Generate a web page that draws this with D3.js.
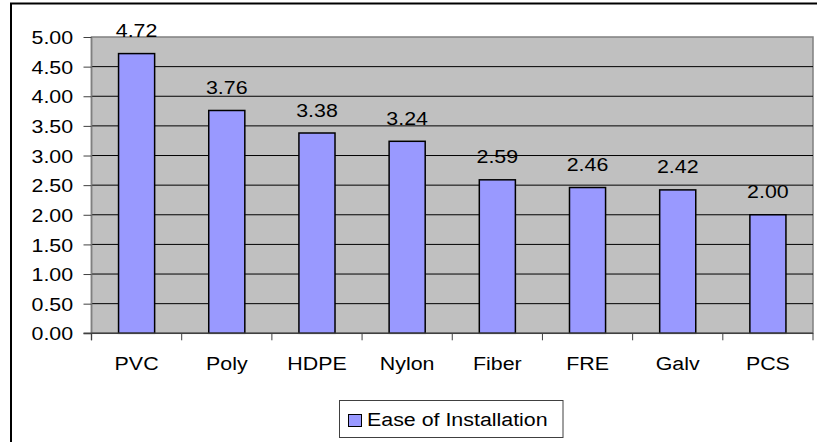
<!DOCTYPE html>
<html>
<head>
<meta charset="utf-8">
<script src="https://cdn.jsdelivr.net/npm/d3@7"></script>
<style>
  body { margin: 0; background: #fff; }
  text { font-family: "Liberation Sans", Arial, sans-serif; fill: #000; }
</style>
</head>
<body>
<div id="chart"></div>
<script>
var categories = ["PVC", "Poly", "HDPE", "Nylon", "Fiber", "FRE", "Galv", "PCS"];
var values = [4.72, 3.76, 3.38, 3.24, 2.59, 2.46, 2.42, 2.00];
var yTicks = [0, 0.5, 1, 1.5, 2, 2.5, 3, 3.5, 4, 4.5, 5];
var seriesName = "Ease of Installation";

var W = 817, H = 442;
var plot = { left: 91.5, top: 37, right: 813, bottom: 333.3 };
var stretch = 1.15; // text in the reference is a bit wider than tall
var fontSize = 18.6;

var svg = d3.select("#chart").append("svg")
  .attr("width", W)
  .attr("height", H);

// outer frame (runs off the right and bottom)
svg.append("rect")
  .attr("x", 11).attr("y", 3.5)
  .attr("width", 830).attr("height", 460)
  .attr("fill", "#fff")
  .attr("stroke", "#000")
  .attr("stroke-width", 2);

var x = d3.scaleBand()
  .domain(categories)
  .range([plot.left, plot.right])
  .paddingInner(0.6)
  .paddingOuter(0.3);

var xEdge = d3.scaleLinear()
  .domain([0, categories.length])
  .range([plot.left, plot.right]);

var y = d3.scaleLinear()
  .domain([0, 5])
  .range([plot.bottom, plot.top]);

// plot background
svg.append("rect")
  .attr("x", plot.left).attr("y", plot.top)
  .attr("width", plot.right - plot.left)
  .attr("height", plot.bottom - plot.top)
  .attr("fill", "#c0c0c0")
  .attr("stroke", "#808080")
  .attr("stroke-width", 1.5);

// gridlines
svg.append("g")
  .selectAll("line")
  .data(yTicks.filter(function (d) { return d > 0 && d < 5; }))
  .enter().append("line")
  .attr("x1", plot.left).attr("x2", plot.right)
  .attr("y1", function (d) { return y(d); })
  .attr("y2", function (d) { return y(d); })
  .attr("stroke", "#000")
  .attr("stroke-width", 1);

// bars
svg.append("g")
  .selectAll("rect")
  .data(values)
  .enter().append("rect")
  .attr("x", function (d, i) { return x(categories[i]); })
  .attr("y", function (d) { return y(d); })
  .attr("width", x.bandwidth())
  .attr("height", function (d) { return y(0) - y(d); })
  .attr("fill", "#9999ff")
  .attr("stroke", "#000")
  .attr("stroke-width", 1.5);

function stretchText(sel, tx, ty) {
  sel.attr("x", 0).attr("y", 0)
    .attr("transform", function (d, i) {
      return "translate(" + tx(d, i) + "," + ty(d, i) + ") scale(" + stretch + ",1)";
    });
}

// value labels
svg.append("g")
  .selectAll("text")
  .data(values)
  .enter().append("text")
  .attr("text-anchor", "middle")
  .style("font-size", fontSize + "px")
  .text(function (d) { return d.toFixed(2); })
  .call(stretchText,
    function (d, i) { return x(categories[i]) + x.bandwidth() / 2; },
    function (d) { return y(d) - 16.5; });

// y axis
var yAxis = svg.append("g")
  .attr("transform", "translate(" + plot.left + ",0)")
  .call(d3.axisLeft(y).tickValues(yTicks).tickSize(8).tickPadding(10)
    .tickFormat(function (d) { return d.toFixed(2); }));
yAxis.select(".domain").attr("stroke", "#808080").attr("stroke-width", 1.5)
  .attr("d", "M0," + plot.top + "V" + (plot.bottom + 7));
yAxis.selectAll(".tick line").attr("stroke", "#404040");
yAxis.selectAll(".tick text")
  .style("font-size", fontSize + "px")
  .attr("fill", "#000")
  .attr("dy", "0.36em")
  .attr("x", -16)
  .attr("transform", "scale(" + stretch + ",1)");

// x axis ticks at category edges
svg.append("g")
  .selectAll("line")
  .data(d3.range(categories.length + 1))
  .enter().append("line")
  .attr("x1", function (d) { return xEdge(d); })
  .attr("x2", function (d) { return xEdge(d); })
  .attr("y1", plot.bottom)
  .attr("y2", plot.bottom + 7)
  .attr("stroke", "#404040")
  .attr("stroke-width", 1);

svg.append("line")
  .attr("x1", plot.left - 8).attr("x2", plot.right)
  .attr("y1", plot.bottom).attr("y2", plot.bottom)
  .attr("stroke", "#404040")
  .attr("stroke-width", 1.5);

// category labels
svg.append("g")
  .selectAll("text")
  .data(categories)
  .enter().append("text")
  .attr("text-anchor", "middle")
  .style("font-size", fontSize + "px")
  .text(function (d) { return d; })
  .call(stretchText,
    function (d) { return x(d) + x.bandwidth() / 2; },
    function () { return 370; });

// legend
var legend = svg.append("g");
legend.append("rect")
  .attr("x", 339.5).attr("y", 400.5)
  .attr("width", 223.5).attr("height", 37)
  .attr("fill", "#fff")
  .attr("stroke", "#404040")
  .attr("stroke-width", 1);
legend.append("rect")
  .attr("x", 348.5).attr("y", 414.5)
  .attr("width", 13).attr("height", 12)
  .attr("fill", "#9999ff")
  .attr("stroke", "#000")
  .attr("stroke-width", 1);
legend.append("text")
  .datum(seriesName)
  .style("font-size", fontSize + "px")
  .text(seriesName)
  .call(stretchText, function () { return 367; }, function () { return 426; });
</script>
</body>
</html>
